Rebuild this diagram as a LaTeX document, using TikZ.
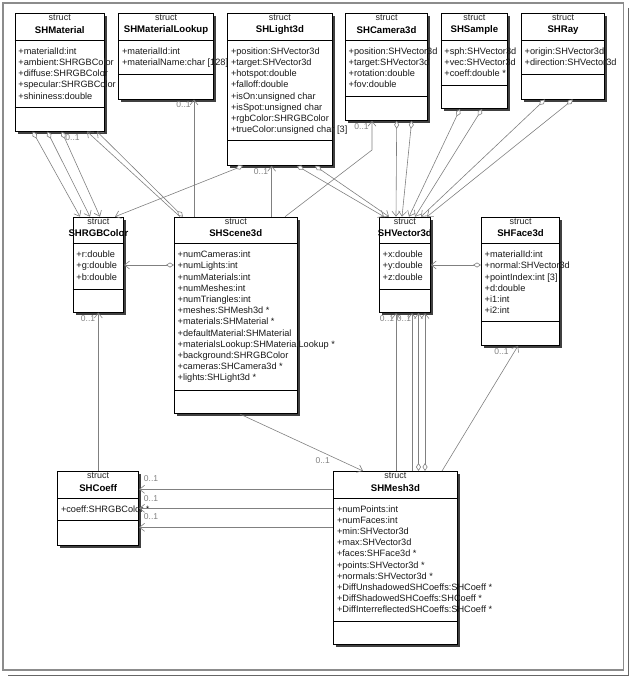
\documentclass[tikz,border=0pt]{standalone}
\usepackage{fontspec}
\setmainfont{Liberation Sans}
\usetikzlibrary{arrows.meta,shadows}

\tikzstyle{structbox}=[draw=black,line width=0.8pt,fill=white,anchor=north west,inner sep=0pt,general shadow={fill=black!75,shadow xshift=2.6pt,shadow yshift=-2.6pt}]
\tikzstyle{structkind}=[inner sep=0pt,text=black!85,font=\fontsize{9}{10}\selectfont]
\tikzstyle{structtitle}=[inner sep=0pt,font=\fontsize{9.6}{10}\selectfont\bfseries]
\tikzstyle{structattrs}=[anchor=north west,inner sep=0pt,align=left,text=black!90,font=\fontsize{9.2}{11.2}\selectfont]
\tikzstyle{assoc}=[draw=black!50,line width=0.6pt,-{Straight Barb[length=5pt,width=8pt]}]
\tikzstyle{agg}=[assoc,{Diamond[open,fill=white,length=8pt,width=5pt]}-{Straight Barb[length=5pt,width=8pt]}]
\tikzstyle{mult}=[text=black!50,inner sep=0pt,font=\fontsize{8.5}{9}\selectfont]

% name, x, y, width, attribute height, operation height, title, attributes
\newcommand{\structbox}[8]{%
  \node[structbox,minimum width=#4pt,minimum height={(27+#5+#6)*1pt}] (#1) at (#2,#3) {};
  \node[structkind] (#1-kind) at ([yshift=-4.8pt]#1.north) {struct};
  \node[structtitle] (#1-title) at ([yshift=-16.8pt]#1.north) {#7};
  \draw[line width=0.8pt] ([yshift=-27pt]#1.north west) -- ([yshift=-27pt]#1.north east);
  \draw[line width=0.8pt] ([yshift={-(27+#5)*1pt}]#1.north west) -- ([yshift={-(27+#5)*1pt}]#1.north east);
  \node[structattrs] (#1-attrs) at ([xshift=3.5pt,yshift=-33pt]#1.north west) {\strut#8};
}

\begin{document}
\begin{tikzpicture}[x=1pt,y=-1pt]
\useasboundingbox (0,0) rectangle (631,677);
% frame
\draw[black!45,line width=1.2pt] (3,3) rectangle (623.5,670);
\draw[black!60,line width=1pt] (628,8) -- (628,675) -- (8,675);

% top row
\structbox{mat}{14.7}{13.3}{89.3}{66.7}{23.7}{SHMaterial}{+materialId:int\\+ambient:SHRGBColor\\+diffuse:SHRGBColor\\+specular:SHRGBColor\\+shininess:double}
\structbox{lookup}{118.3}{13.3}{94.7}{33.7}{24.7}{SHMaterialLookup}{+materialId:int\\+materialName:char [128]}
\structbox{light}{227.3}{13.3}{104.4}{100.4}{24.3}{SHLight3d}{+position:SHVector3d\\+target:SHVector3d\\+hotspot:double\\+falloff:double\\+isOn:unsigned char\\+isSpot:unsigned char\\+rgbColor:SHRGBColor\\+trueColor:unsigned char [3]}
\structbox{cam}{345}{13.3}{82.3}{55.7}{24}{SHCamera3d}{+position:SHVector3d\\+target:SHVector3d\\+rotation:double\\+fov:double}
\structbox{sample}{440.7}{13.3}{66.6}{44.7}{23.3}{SHSample}{+sph:SHVector3d\\+vec:SHVector3d\\+coeff:double *}
\structbox{ray}{521}{13.3}{83.3}{33.7}{24.7}{SHRay}{+origin:SHVector3d\\+direction:SHVector3d}

% middle row
\structbox{rgb}{72.7}{216.7}{50.6}{45.6}{22.4}{SHRGBColor}{+r:double\\+g:double\\+b:double}
\structbox{scene}{174}{216.7}{122.7}{146.3}{23.3}{SHScene3d}{+numCameras:int\\+numLights:int\\+numMaterials:int\\+numMeshes:int\\+numTriangles:int\\+meshes:SHMesh3d *\\+materials:SHMaterial *\\+defaultMaterial:SHMaterial\\+materialsLookup:SHMaterialLookup *\\+background:SHRGBColor\\+cameras:SHCamera3d *\\+lights:SHLight3d *}
\structbox{vec}{379}{216.7}{51}{45.6}{23}{SHVector3d}{+x:double\\+y:double\\+z:double}
\structbox{face}{481}{216.7}{78.3}{78}{23.3}{SHFace3d}{+materialId:int\\+normal:SHVector3d\\+pointIndex:int [3]\\+d:double\\+i1:int\\+i2:int}

% bottom row
\structbox{coeff}{57.3}{471}{81}{22}{25}{SHCoeff}{+coeff:SHRGBColor *}
\structbox{mesh}{333.3}{471}{123.4}{123}{23}{SHMesh3d}{+numPoints:int\\+numFaces:int\\+min:SHVector3d\\+max:SHVector3d\\+faces:SHFace3d *\\+points:SHVector3d *\\+normals:SHVector3d *\\+DiffUnshadowedSHCoeffs:SHCoeff *\\+DiffShadowedSHCoeffs:SHCoeff *\\+DiffInterreflectedSHCoeffs:SHCoeff *}

% connectors
\draw[agg] ([xshift=18pt]mat.south west) -- ([xshift=7.3pt]rgb.north west);
\draw[agg] ([xshift=32.6pt]mat.south west) -- ([xshift=17.3pt]rgb.north west);
\draw[agg] ([xshift=47pt]mat.south west) -- ([xshift=27.3pt]rgb.north west);
\draw[assoc] ([xshift=6pt]scene.north west) -- ([xshift=72.3pt]mat.south west);
\draw[agg] ([xshift=9pt]scene.north west) -- ([xshift=82.3pt]mat.south west);
\draw[assoc] ([xshift=20pt]scene.north west) -- ([xshift=75.7pt]lookup.south west);
\draw[agg] ([xshift=15.7pt]light.south west) -- ([xshift=42.3pt]rgb.north west);
\draw[assoc] ([xshift=97.7pt]scene.north west) -- ([xshift=44.4pt]light.south west);
\draw[agg] ([xshift=69.7pt]light.south west) -- ([xshift=5pt]vec.north west);
\draw[agg] ([xshift=87.7pt]light.south west) -- ([xshift=10pt]vec.north west);
\coordinate (cambend) at (372,150);
\draw[assoc] ([xshift=111pt]scene.north west) -- (cambend) -- ([xshift=27pt]cam.south west);
\draw[agg] ([xshift=51.7pt]cam.south west) -- ([xshift=17pt]vec.north west);
\draw[agg] ([xshift=66.7pt]cam.south west) -- ([xshift=23pt]vec.north west);
\draw[agg] ([xshift=19.3pt]sample.south west) -- ([xshift=30pt]vec.north west);
\draw[agg] ([xshift=41.3pt]sample.south west) -- ([xshift=36pt]vec.north west);
\draw[agg] ([xshift=24pt]ray.south west) -- ([xshift=42pt]vec.north west);
\draw[agg] ([xshift=52pt]ray.south west) -- ([xshift=48pt]vec.north west);
\draw[agg] ([yshift=-48.3pt]scene.north west) -- ([yshift=-48.3pt]rgb.north east);
\draw[agg] ([yshift=-48.3pt]face.north west) -- ([yshift=-48.3pt]vec.north east);
\draw[assoc] ([xshift=41pt]coeff.north west) -- ([xshift=25.6pt]rgb.south west);
\draw[assoc] ([xshift=62.7pt]mesh.north west) -- ([xshift=17pt]vec.south west);
\draw[assoc] ([xshift=78.7pt]mesh.north west) -- ([xshift=33pt]vec.south west);
\draw[agg] ([xshift=85.2pt]mesh.north west) -- ([xshift=39.5pt]vec.south west);
\draw[agg] ([xshift=91.7pt]mesh.north west) -- ([xshift=46pt]vec.south west);
\draw[assoc] ([xshift=108.7pt]mesh.north west) -- ([xshift=37pt]face.south west);
\draw[assoc] ([xshift=66pt]scene.south west) -- ([xshift=29.7pt]mesh.north west);
\draw[assoc] ([yshift=-18.3pt]mesh.north west) -- ([yshift=-18.3pt]coeff.north east);
\draw[assoc] ([yshift=-37.3pt]mesh.north west) -- ([yshift=-37.3pt]coeff.north east);
\draw[assoc] ([yshift=-56.3pt]mesh.north west) -- ([yshift=-56.3pt]coeff.north east);

% multiplicities
\node[mult] (m1) at (72.5,138) {0..1};
\node[mult] (m2) at (183.5,105) {0..1};
\node[mult] (m3) at (261,172) {0..1};
\node[mult] (m4) at (361.5,127) {0..1};
\node[mult] (m5) at (88,319) {0..1};
\node[mult] (m6) at (387,318.5) {0..1};
\node[mult] (m7) at (404,318.5) {0..1};
\node[mult] (m8) at (501.5,352) {0..1};
\node[mult] (m9) at (322.7,461) {0..1};
\node[mult] (m10) at (151,479) {0..1};
\node[mult] (m11) at (151,498.7) {0..1};
\node[mult] (m12) at (151,517) {0..1};
\end{tikzpicture}
\end{document}
